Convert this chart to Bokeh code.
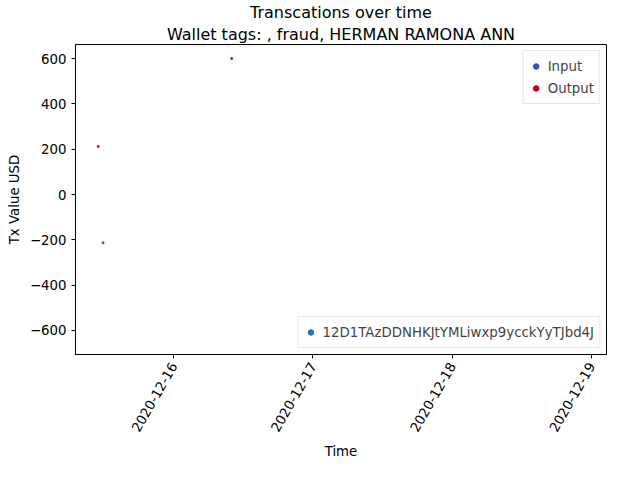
import math
import pandas as pd
from bokeh.plotting import figure
from bokeh.models import (ColumnDataSource, Legend, LegendItem, Title,
                          DatetimeTickFormatter, FixedTicker, Range1d)
from bokeh.embed import file_html
from bokeh.resources import INLINE

# transactions
tx_time = pd.to_datetime(["2020-12-15 11:00", "2020-12-15 11:50", "2020-12-16 10:00"])
tx_value = [212, -213, 600]
tx_kind = ["Output", "Input", "Output"]
kind_colors = {"Input": "#3b4cc0", "Output": "#b40426"}
wallet = "12D1TAzDDNHKJtYMLiwxp9ycckYyTJbd4J"
tick_days = ["2020-12-16", "2020-12-17", "2020-12-18", "2020-12-19"]

src = ColumnDataSource(data=dict(t=tx_time, v=tx_value,
                                 c=[kind_colors[k] for k in tx_kind]))

x0 = pd.Timestamp("2020-12-15 07:05")
x1 = pd.Timestamp("2020-12-19 02:35")
p = figure(frame_width=531, frame_height=310, output_backend="svg", toolbar_location=None,
           x_axis_type="datetime", x_range=Range1d(x0, x1), y_range=Range1d(-706, 662),
           min_border_left=75, min_border_right=18, min_border_bottom=5, min_border_top=2)
p.grid.visible = False
p.outline_line_color = "black"

p.add_layout(Title(text="Wallet tags: , fraud, HERMAN RAMONA ANN", align="center",
                   text_font_size="12pt", text_font_style="normal", text_font="DejaVu Sans",
                   text_color="black", standoff=2, offset=0), "above")
p.add_layout(Title(text="Transcations over time", align="center",
                   text_font_size="12pt", text_font_style="normal", text_font="DejaVu Sans",
                   text_color="black", standoff=0), "above")

pts = p.scatter("t", "v", source=src, color="c", size=2)

ticks = [pd.Timestamp(d).value / 1e6 for d in tick_days]
p.xaxis.ticker = FixedTicker(ticks=ticks)
p.xaxis.formatter = DatetimeTickFormatter(days="%Y-%m-%d", months="%Y-%m-%d", hours="%Y-%m-%d")
p.xaxis.major_label_orientation = math.pi / 3
p.yaxis.ticker = FixedTicker(ticks=[-600, -400, -200, 0, 200, 400, 600])
p.xaxis.axis_label = "Time"
p.yaxis.axis_label = "Tx Value USD"
for ax in (p.xaxis, p.yaxis):
    ax.axis_label_text_font_style = "normal"
    ax.axis_label_text_font_size = "10pt"
    ax.major_label_text_font_size = "10pt"
    ax.axis_label_text_font = "DejaVu Sans"
    ax.major_label_text_font = "DejaVu Sans"
    ax.axis_label_text_color = "black"
    ax.major_label_text_color = "black"
    ax.minor_tick_line_color = None
    ax.major_tick_out = 4
    ax.major_tick_in = 0

nan_pt = dict(t=[x0], v=[float("nan")])
legend_items = []
for k in ["Input", "Output"]:
    r = p.scatter("t", "v", source=ColumnDataSource(data=nan_pt), color=kind_colors[k], size=8)
    legend_items.append(LegendItem(label=k, renderers=[r]))
wal = p.scatter("t", "v", source=ColumnDataSource(data=nan_pt), color="#1f77b4", size=2)

leg1 = Legend(items=legend_items, location="top_right", border_line_color="#cccccc",
              label_text_font_size="10pt", label_text_font="DejaVu Sans",
              glyph_width=14, spacing=2, padding=5, margin=6)
leg2 = Legend(items=[LegendItem(label=wallet, renderers=[wal])], location="bottom_right",
              border_line_color="#cccccc", label_text_font_size="10pt",
              label_text_font="DejaVu Sans", glyph_width=14, padding=5, margin=6)
p.add_layout(leg1)
p.add_layout(leg2)

open("out.html", "w").write(file_html(p, INLINE))
